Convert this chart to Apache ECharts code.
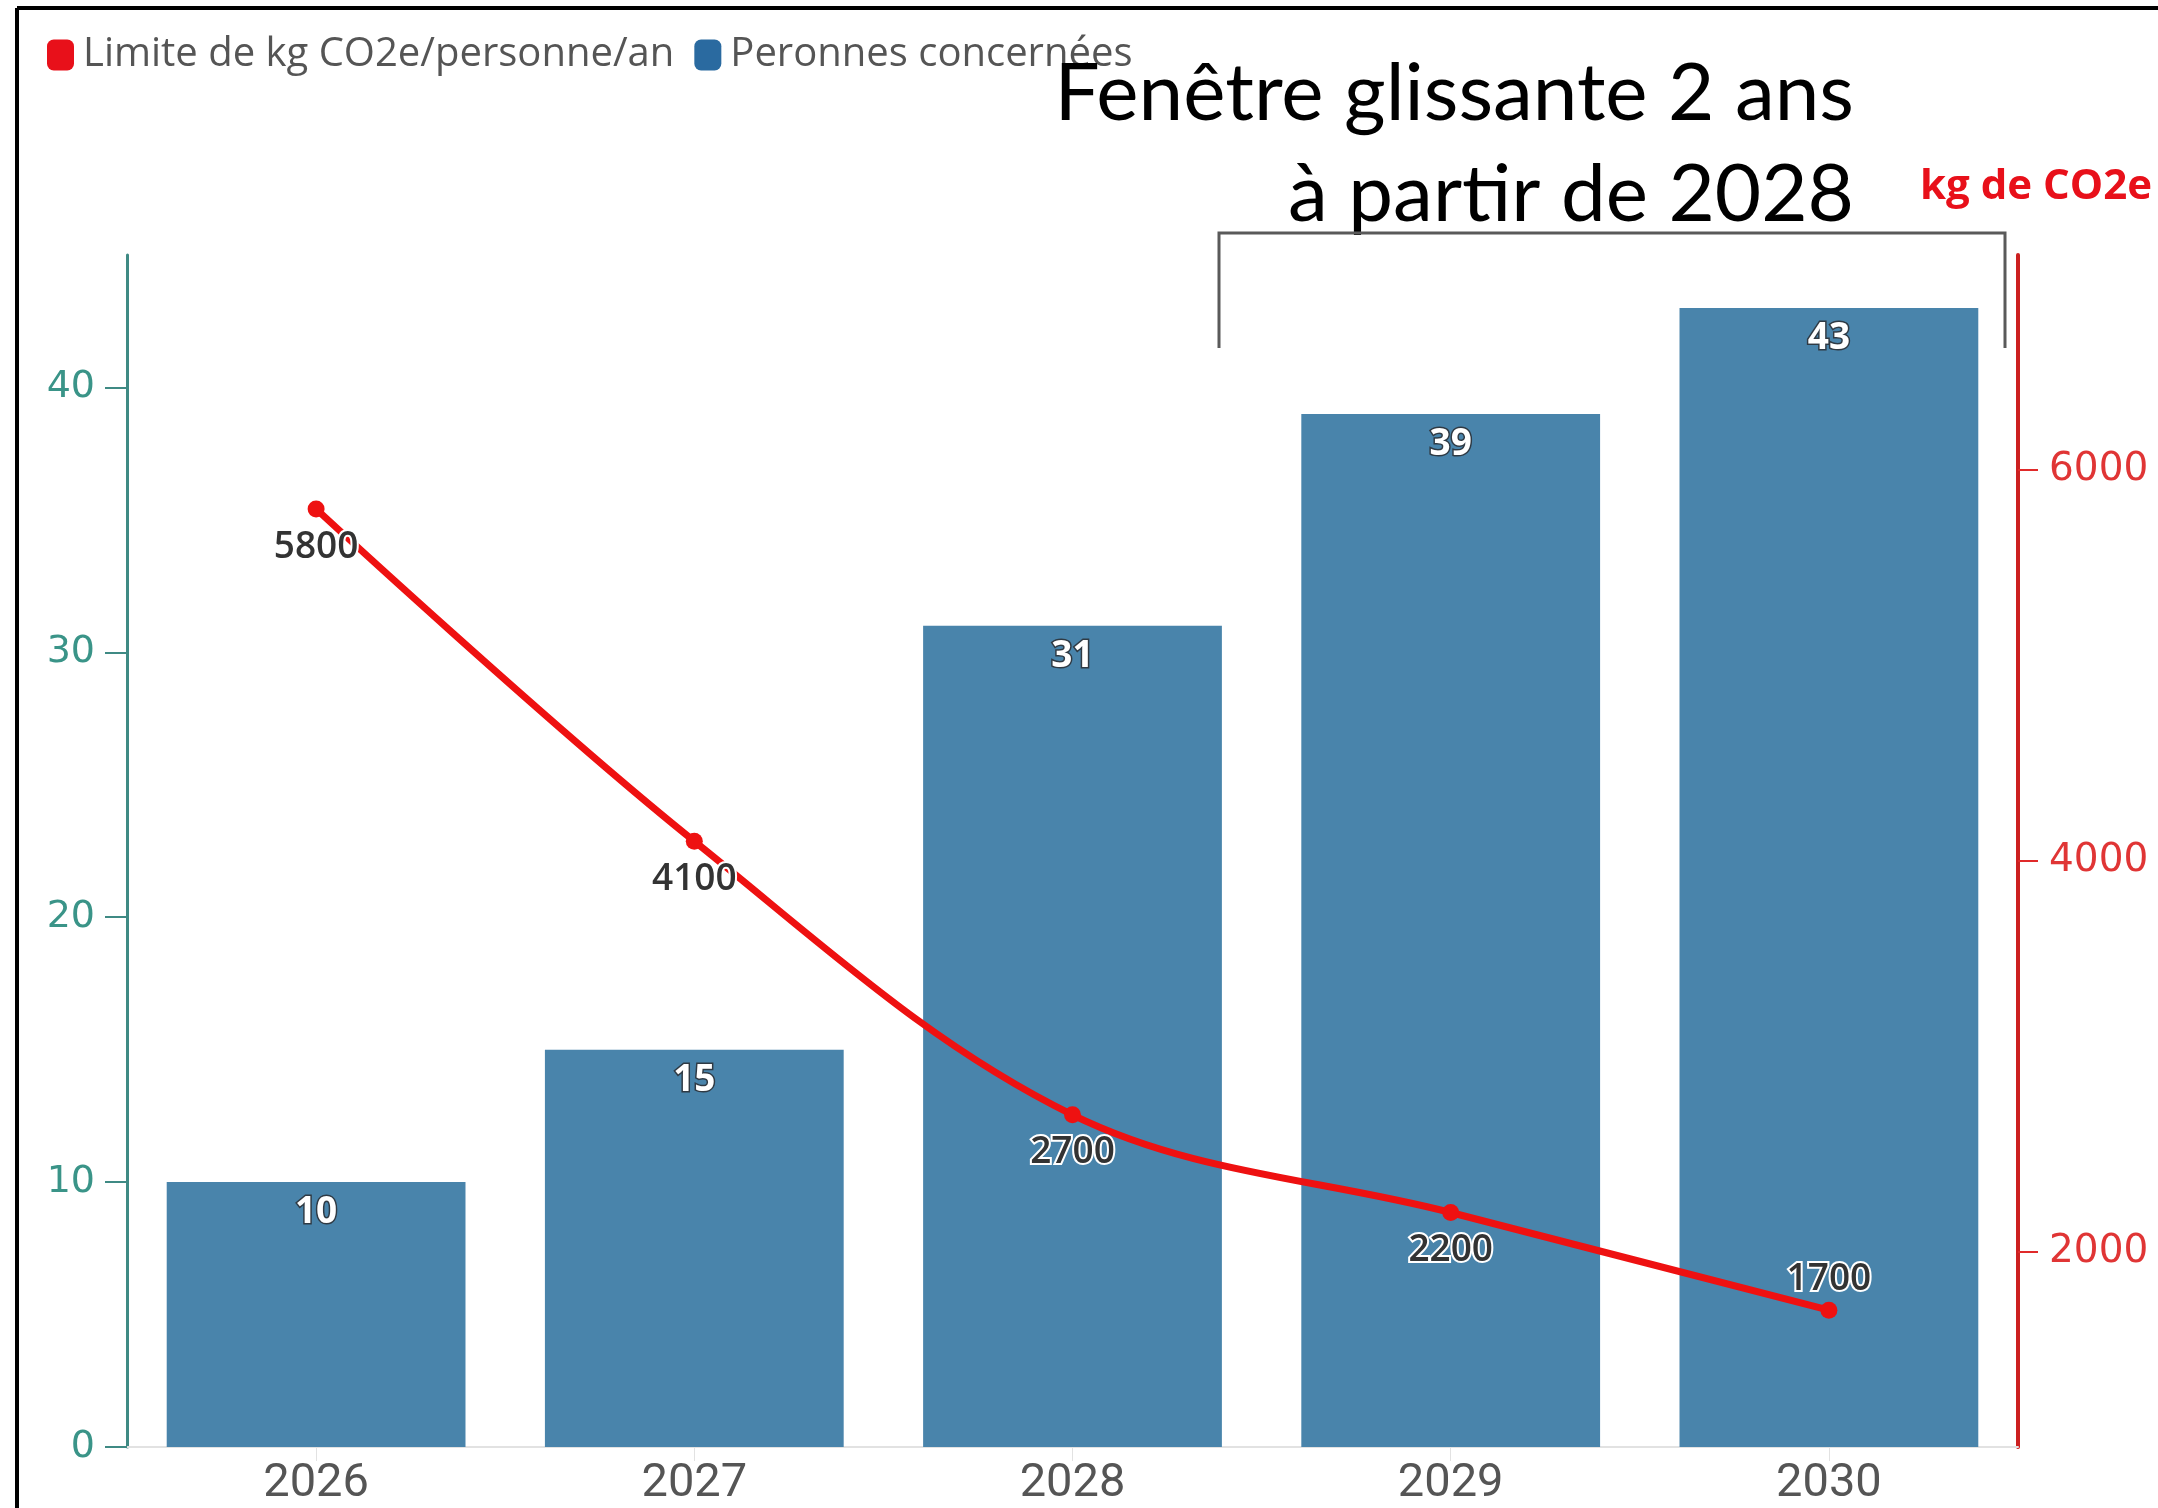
<!DOCTYPE html>
<html>
<head>
<meta charset="utf-8">
<script src="https://cdn.jsdelivr.net/npm/echarts@6/dist/echarts.min.js"></script>
<style>
  html, body { margin: 0; padding: 0; background: #ffffff; }
  #chart { width: 2158px; height: 1508px; }
</style>
</head>
<body>
<div id="chart"></div>
<script>
// Years on the category axis
const years = ['2026', '2027', '2028', '2029', '2030'];
// Number of people concerned (left axis, bars)
const personnes = [10, 15, 31, 39, 43];
// Yearly emission cap in kg CO2e per person (right axis, line)
const limiteKg = [5800, 4100, 2700, 2200, 1700];
// Tick values shown on each value axis
const leftTicks = [0, 10, 20, 30, 40];
const rightTicks = [2000, 4000, 6000];
// Where each cap label sits relative to its point
const limitePos = ['bottom', 'bottom', 'bottom', 'bottom', 'top'];

const NAME_LIMITE = 'Limite de kg CO2e/personne/an';
const NAME_PERS = 'Peronnes concernées';

const chart = echarts.init(document.getElementById('chart'), null, { renderer: 'canvas' });

const option = {
  backgroundColor: '#ffffff',
  animation: false,
  legend: {
    left: 42,
    top: 30,
    icon: 'roundRect',
    itemWidth: 27,
    itemHeight: 31,
    itemGap: 20,
    textStyle: { fontFamily: 'Open Sans', fontSize: 40, color: '#555555', padding: [0, 0, 0, 4] },
    data: [
      { name: NAME_LIMITE, itemStyle: { color: '#e8101a' } },
      { name: NAME_PERS, itemStyle: { color: '#2a6aa0' } }
    ]
  },
  grid: { left: 127, right: 140, top: 255, bottom: 59, containLabel: false },
  xAxis: {
    type: 'category',
    data: years,
    axisLine: { show: true, lineStyle: { color: '#e2e2e2', width: 2 } },
    axisTick: { show: true, alignWithLabel: true, length: 14, lineStyle: { color: '#e2e2e2', width: 1 } },
    axisLabel: { fontFamily: 'Roboto', fontSize: 47, color: '#555555', margin: 14 },
    splitLine: { show: false }
  },
  yAxis: [
    {
      type: 'value',
      position: 'left',
      min: 0,
      max: 45,
      axisLine: { show: true, lineStyle: { color: '#3f8a84', width: 3 } },
      axisTick: { show: true, length: 22, customValues: leftTicks, lineStyle: { color: '#3f8a84', width: 2 } },
      axisLabel: { customValues: leftTicks, fontFamily: 'DejaVu Sans', fontSize: 38, color: '#3a9488', margin: 32 },
      splitLine: { show: false }
    },
    {
      type: 'value',
      position: 'right',
      min: 1000,
      max: 7100,
      axisLine: { show: true, lineStyle: { color: '#cc2020', width: 4 } },
      axisTick: { show: true, length: 20, customValues: rightTicks, lineStyle: { color: '#e02a2a', width: 2 } },
      axisLabel: {
        customValues: rightTicks,
        formatter: (v) => String(v),
        fontFamily: 'DejaVu Sans',
        fontSize: 39,
        color: '#e03535',
        margin: 31
      },
      splitLine: { show: false }
    }
  ],
  series: [
    {
      name: NAME_PERS,
      type: 'bar',
      yAxisIndex: 0,
      data: personnes,
      barWidth: '79%',
      itemStyle: { color: '#4984ab' },
      label: {
        show: true,
        position: 'insideTop',
        distance: 12,
        fontFamily: 'Open Sans',
        fontWeight: 'bold',
        fontSize: 37,
        color: '#ffffff',
        textBorderColor: '#2f3a44',
        textBorderWidth: 3
      },
      z: 2
    },
    {
      name: NAME_LIMITE,
      type: 'line',
      yAxisIndex: 1,
      smooth: 0.35,
      symbol: 'circle',
      symbolSize: 17,
      lineStyle: { color: '#ee1111', width: 7 },
      itemStyle: { color: '#ee1111' },
      data: limiteKg.map((v, i) => ({
        value: v,
        label: { position: limitePos[i], distance: limitePos[i] === 'top' ? 4 : 11 }
      })),
      label: {
        show: true,
        fontFamily: 'Open Sans',
        fontWeight: 600,
        fontSize: 37,
        color: '#333333',
        textBorderColor: '#ffffff',
        textBorderWidth: 4
      },
      z: 5
    }
  ],
  graphic: [
    // frame edges
    { type: 'line', shape: { x1: 17, y1: 8, x2: 2158, y2: 8 }, style: { stroke: '#000000', lineWidth: 4 }, z: 100 },
    { type: 'line', shape: { x1: 17, y1: 8, x2: 17, y2: 1508 }, style: { stroke: '#000000', lineWidth: 4 }, z: 100 },
    // annotation text
    {
      type: 'text',
      x: 1854,
      y: 44,
      z: 100,
      style: {
        text: 'Fenêtre glissante 2 ans\nà partir de 2028',
        align: 'right',
        verticalAlign: 'top',
        fontFamily: 'Lato',
        fontSize: 80,
        lineHeight: 101,
        fill: '#000000'
      }
    },
    // bracket over the sliding window years
    {
      type: 'polyline',
      z: 100,
      shape: { points: [[1219, 348], [1219, 233], [2005, 233], [2005, 348]] },
      style: { stroke: '#5a5a5a', lineWidth: 3, fill: null }
    },
    // right axis unit
    {
      type: 'text',
      x: 1920,
      y: 187,
      z: 100,
      style: {
        text: 'kg de CO2e',
        align: 'left',
        verticalAlign: 'middle',
        fontFamily: 'Open Sans',
        fontWeight: 'bold',
        fontSize: 42,
        fill: '#e8101a'
      }
    }
  ]
};

chart.setOption(option);
</script>
</body>
</html>
